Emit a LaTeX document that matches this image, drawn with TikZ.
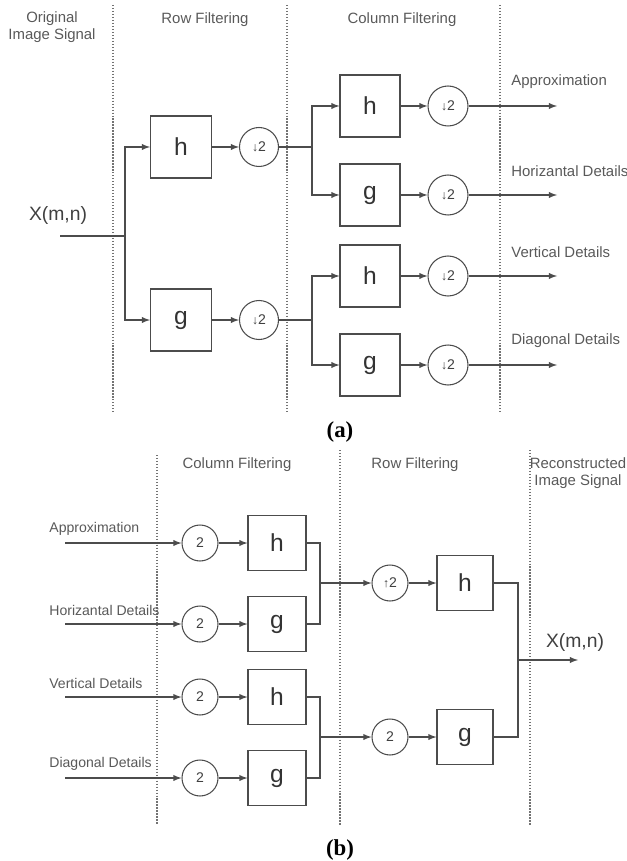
\documentclass[tikz,border=0pt]{standalone}
\usepackage{fontspec}
\setmainfont{Liberation Sans}
\newfontfamily\capfont{Liberation Serif}

\begin{document}
\begin{tikzpicture}[
    x=0.02cm, y=-0.02cm,
    line width=0.6pt, draw=black!70,
    blok/.style={draw, minimum width=1.22cm, minimum height=1.24cm, inner sep=0pt,
      font=\fontsize{14}{14}\selectfont, text=black!80},
    blokb/.style={blok, minimum width=1.16cm, minimum height=1.1cm},
    ronde/.style={draw, circle, minimum size=0.78cm, inner sep=0pt,
      font=\fontsize{8}{8}\selectfont, text=black!75},
    rondeb/.style={ronde, minimum size=0.72cm},
    lbl/.style={font=\fontsize{8.5}{10}\selectfont, text=black!65, align=center},
    sep/.style={densely dotted, draw=black!55, line width=0.7pt},
    arr/.style={-latex},
    capt/.style={font=\capfont\bfseries\fontsize{13}{13}\selectfont},
  ]
  \useasboundingbox (0,0) rectangle (626,861);

  % (a) decomposition
  \draw[sep] (113,5) -- (113,412);
  \draw[sep] (287,5) -- (287,412);
  \draw[sep] (500,5) -- (500,412);
  \node[lbl] (orig) at (52,27) {Original\\Image Signal};
  \node[lbl] (rowa) at (205,20) {Row Filtering};
  \node[lbl] (cola) at (402,20) {Column Filtering};

  \node[font=\fontsize{11}{11}\selectfont, text=black!75] (xin) at (58,215) {X(m,n)};
  \coordinate (in) at (60,236);
  \coordinate (sa) at (125,236);
  \node[blok] (ha) at (181,147) {h};
  \node[blok] (ga) at (181,320) {g};
  \node[ronde] (da1) at (259,147) {{\fontsize{7}{7}\selectfont↓}2};
  \node[ronde] (da2) at (259,320) {{\fontsize{7}{7}\selectfont↓}2};
  \draw (in) -- (sa);
  \draw[arr] (sa) |- (ha.west);
  \draw[arr] (sa) |- (ga.west);
  \draw[arr] (ha) -- (da1);
  \draw[arr] (ga) -- (da2);

  \coordinate (ja1) at (312,147);
  \coordinate (ja2) at (312,320);
  \draw (da1) -- (ja1);
  \draw (da2) -- (ja2);
  \foreach \n/\f/\y/\j/\t in {1/h/106/ja1/Approximation, 2/g/195/ja1/Horizantal Details,
                              3/h/276/ja2/Vertical Details, 4/g/365/ja2/Diagonal Details} {
    \node[blok, minimum width=1.2cm] (fa\n) at (370,\y) {\f};
    \node[ronde, minimum size=0.8cm] (dc\n) at (448,\y) {{\fontsize{7}{7}\selectfont↓}2};
    \coordinate (oa\n) at (557,\y);
    \node[lbl, anchor=west] (ta\n) at (505,\y-24) {\t};
    \draw[arr] (\j) |- (fa\n.west);
    \draw[arr] (fa\n) -- (dc\n);
    \draw[arr] (dc\n) -- (oa\n);
  }
  \node[capt] (capa) at (340,432) {(a)};

  % (b) reconstruction
  \draw[sep] (157,455) -- (157,825);
  \draw[sep] (340,450) -- (340,825);
  \draw[sep] (530,450) -- (530,825);
  \node[lbl] (colb) at (237,465) {Column Filtering};
  \node[lbl] (rowb) at (415,465) {Row Filtering};
  \node[lbl] (recb) at (578,473) {Reconstructed\\Image Signal};

  \foreach \n/\f/\y/\t in {1/h/543/Approximation, 2/g/624/Horizantal Details,
                           3/h/697/Vertical Details, 4/g/778/Diagonal Details} {
    \coordinate (ib\n) at (65,\y);
    \node[lbl, font=\fontsize{8}{10}\selectfont, anchor=west] (tb\n) at (43,\y-14) {\t};
    \node[rondeb] (ub\n) at (200,\y) {2};
    \node[blokb] (fb\n) at (277,\y) {\f};
    \draw[arr] (ib\n) -- (ub\n);
    \draw[arr] (ub\n) -- (fb\n);
  }
  \coordinate (jb1) at (320,583);
  \coordinate (jb2) at (320,737);
  \draw (fb1.east) -| (jb1);
  \draw (fb2.east) -| (jb1);
  \draw (fb3.east) -| (jb2);
  \draw (fb4.east) -| (jb2);

  \node[rondeb] (ur1) at (390,583) {{\fontsize{7}{7}\selectfont↑}2};
  \node[rondeb] (ur2) at (390,737) {2};
  \node[blokb, minimum width=1.12cm] (hr) at (465,583) {h};
  \node[blokb, minimum width=1.12cm] (gr) at (465,737) {g};
  \draw[arr] (jb1) -- (ur1);
  \draw[arr] (jb2) -- (ur2);
  \draw[arr] (ur1) -- (hr);
  \draw[arr] (ur2) -- (gr);

  \coordinate (jr) at (518,660);
  \coordinate (xout) at (578,660);
  \draw (hr.east) -| (jr);
  \draw (gr.east) -| (jr);
  \draw[arr] (jr) -- (xout);
  \node[font=\fontsize{11}{11}\selectfont, text=black!75] (xrec) at (575,642) {X(m,n)};
  \node[capt] (capb) at (340,850) {(b)};
\end{tikzpicture}
\end{document}
